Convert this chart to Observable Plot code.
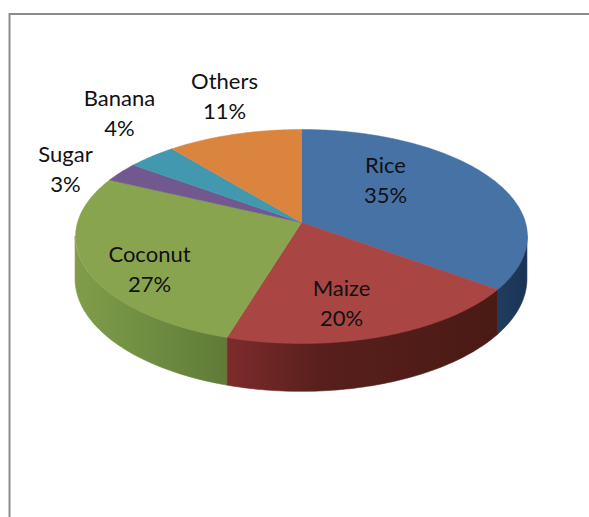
<!DOCTYPE html>
<html><head><meta charset="utf-8">
<script src="https://cdn.jsdelivr.net/npm/d3@7"></script>
<script src="https://cdn.jsdelivr.net/npm/@observablehq/plot@0.6"></script>
<style>html,body{margin:0;padding:0;background:#fff}svg{display:block}</style>
</head><body><div id="chart"></div>
<script>
const categories = ["Rice","Maize","Coconut","Sugar","Banana","Others"];
const shares = [35,19.7,27.3,3,4,11];
const topColors = ["#4672a6","#a94543","#89a44e","#71588f","#4198af","#db843d"];
const sideStart = ["#1f3d60","#7d2c2b","#5f7b37","#5a4672","#33798c","#b06a30"];
const sideMid = ["#1d3859","#581f1c","#6f8d41","#5a4672","#33798c","#b06a30"];
const sideEnd = ["#1a3353","#4a1a15","#7f9d49","#5a4672","#33798c","#b06a30"];
const labelPixels = [[385,178],[341,301],[149,267],[65,167],[119,111],[224,94]];

// Pie geometry in a tilted disc with perspective
const W = 589, H = 517, CX = 301, CY = 222, RX = 224, RY = 105.2, K = 0.1308, DEPTH = 42/105.2;
const ux = t => Math.sin(t)/(1+K*Math.cos(t));
const uy = t => Math.cos(t)/(1+K*Math.cos(t));
const sx = px => (px-CX)/RX;
const sy = py => (CY-py)/RY;

const arcs = d3.pie().sort(null).value(d => d)(shares);
const deg = Math.PI/180;

const faces = arcs.flatMap((a,i) => {
  const n = Math.max(2, Math.ceil((a.endAngle-a.startAngle)/deg));
  const pts = [{name:categories[i],x:0,y:0,c:topColors[i]}];
  for (let j=0;j<=n;j++){ const t=a.startAngle+(a.endAngle-a.startAngle)*j/n; pts.push({name:categories[i],x:ux(t),y:uy(t),c:topColors[i]}); }
  pts.push({name:categories[i],x:0,y:0,c:topColors[i]});
  return pts;
});

// Outer wall of each slice, on the visible lower part of the rim
const tStart = Math.acos(-K), tEnd = 2*Math.PI - tStart;
const wall = [];
arcs.forEach((a,i) => {
  const s = Math.max(a.startAngle,tStart), e = Math.min(a.endAngle,tEnd);
  if (e<=s) return;
  const n = Math.ceil((e-s)/deg);
  for (let j=0;j<=n;j++){
    const t=s+(e-s)*j/n, d=DEPTH/(1+K*Math.cos(t));
    wall.push({id:categories[i],x:ux(t),y1:uy(t),y2:uy(t)-d,c:`url(#wall${i})`});
  }
});

// The wall is drawn by the x of its slice, so a left-to-right gradient follows the rim
const gradients = () => {
  const defs = d3.create("svg:defs");
  categories.forEach((c,i) => {
    const g = defs.append("linearGradient").attr("id",`wall${i}`).attr("x1",0).attr("x2",1).attr("y1",0).attr("y2",0);
    const stops = i===2 ? [sideEnd[i],sideMid[i],sideStart[i]] : [sideStart[i],sideMid[i],sideEnd[i]];
    const midAt = i===1 ? 0.35 : 0.5;
    stops.forEach((col,j)=>g.append("stop").attr("offset",[0,midAt,1][j]).attr("stop-color",col));
  });
  return defs.node();
};

const fig = Plot.plot({
  width:W,height:H,margin:0,
  style:{background:"#fff"},
  x:{domain:[sx(0),sx(W)],range:[0,W],axis:null},
  y:{domain:[sy(H),sy(0)],range:[H,0],axis:null},
  color:{type:"identity"},
  marks:[
    gradients,
    Plot.ruleY([sy(13.5)],{x1:sx(9),x2:sx(W),stroke:"#8c8c8c",strokeWidth:2}),
    Plot.ruleX([sx(9)],{y1:sy(13),y2:sy(H),stroke:"#8c8c8c",strokeWidth:2}),
    Plot.area(wall,{x1:"x",y1:"y1",y2:"y2",z:"id",fill:"c",stroke:"c",strokeWidth:0.6}),
    Plot.line(faces,{x:"x",y:"y",z:"name",fill:"c",stroke:"c",strokeWidth:0.5}),
    Plot.text(categories.map((c,i)=>({t:c+"\n"+Math.round(shares[i])+"%",x:sx(labelPixels[i][0]),y:sy(labelPixels[i][1])})),
      {x:"x",y:"y",text:"t",lineHeight:1.36,lineAnchor:"middle",textAnchor:"middle",fontSize:22,fontFamily:"Lato",fill:"#111"})
  ]
});
document.getElementById("chart").append(fig);
</script></body></html>
